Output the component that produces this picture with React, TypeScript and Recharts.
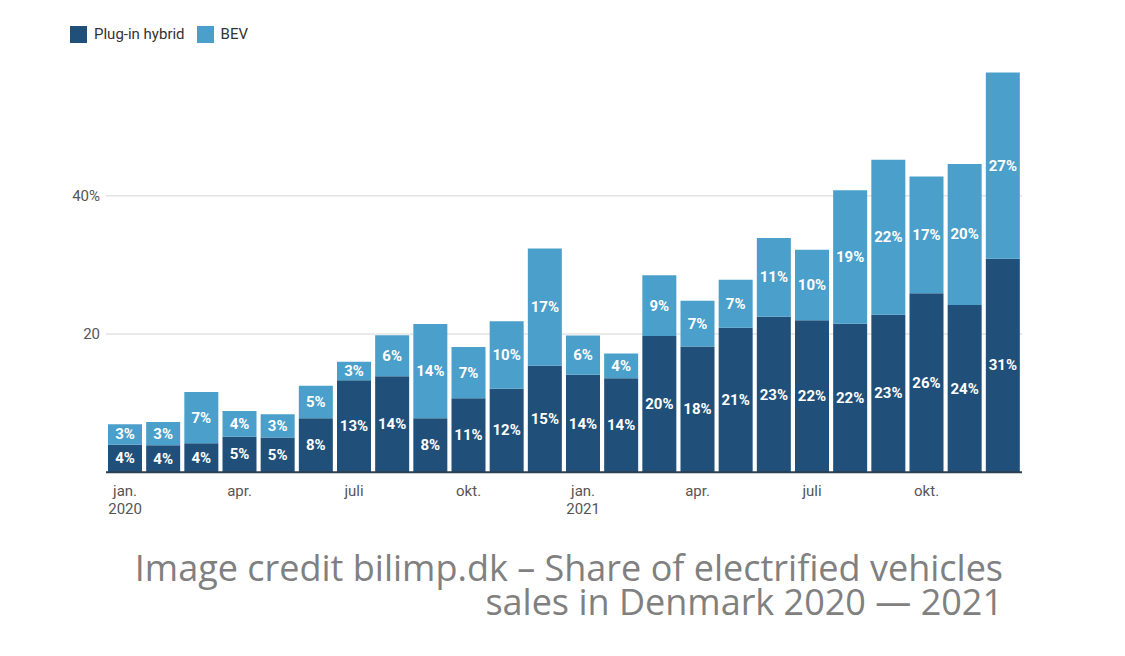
import React from "react";
import { BarChart, Bar, XAxis, YAxis, CartesianGrid, LabelList } from "recharts";

const months = [
  "2020-01", "2020-02", "2020-03", "2020-04", "2020-05", "2020-06",
  "2020-07", "2020-08", "2020-09", "2020-10", "2020-11", "2020-12",
  "2021-01", "2021-02", "2021-03", "2021-04", "2021-05", "2021-06",
  "2021-07", "2021-08", "2021-09", "2021-10", "2021-11", "2021-12",
];

const pluginHybrid = [
  4.0, 3.9, 4.2, 5.15, 5.05, 7.8, 13.3, 13.9, 7.8, 10.7, 12.1, 15.4,
  14.1, 13.6, 19.7, 18.2, 20.9, 22.5, 22.0, 21.5, 22.8, 25.9, 24.2, 30.9,
];

const bev = [
  2.95, 3.37, 7.42, 3.71, 3.33, 4.71, 2.7, 5.92, 13.64, 7.42, 9.75, 16.97,
  5.69, 3.57, 8.78, 6.6, 6.94, 11.38, 10.17, 19.28, 22.4, 16.86, 20.39, 26.9,
];

const xTickLines = [
  ["jan.", "2020"], [], [], ["apr."], [], [], ["juli"], [], [], ["okt."], [], [],
  ["jan.", "2021"], [], [], ["apr."], [], [], ["juli"], [], [], ["okt."], [], [],
];

const yDomain = [0, 60];
const yTicks = [20, 40];
const yTickLabels: Record<number, string> = { 20: "20", 40: "40%" };

const captionLines = [
  "Image credit bilimp.dk – Share of electrified vehicles",
  "sales in Denmark 2020 — 2021",
];

const seriesNames = { phev: "Plug-in hybrid", bev: "BEV" };
const DARK = "#20507a";
const LIGHT = "#4a9fcb";

const data = months.map((m, i) => ({ month: m, phev: pluginHybrid[i], bev: bev[i] }));

const XTick = (props: any) => {
  const { x, y, payload } = props;
  const lines = xTickLines[payload.index] || [];
  if (!lines.length) return null;
  return (
    <text x={x} y={y} textAnchor="middle" fill="#555" fontSize={15} fontFamily="Roboto">
      {lines.map((l: string, k: number) => (
        <tspan key={k} x={x} dy={k === 0 ? 16 : 18}>{l}</tspan>
      ))}
    </text>
  );
};

const BarLabel = (props: any) => {
  const { x, y, width, height, value } = props;
  if (value == null) return null;
  return (
    <text
      x={x + width / 2}
      y={y + height / 2}
      textAnchor="middle"
      dominantBaseline="central"
      fill="#fff"
      fontSize={15}
      fontWeight="bold"
      fontFamily="Roboto"
    >
      {Math.round(value)}%
    </text>
  );
};

const gridYs = (p: any) => {
  const off = p.offset || {};
  const top = off.top ?? 57.4;
  const h = off.height ?? 414.9;
  return yTicks.map((t) => top + h * (1 - (t - yDomain[0]) / (yDomain[1] - yDomain[0])));
};

export default function App() {
  return (
    <div style={{ position: "absolute", left: 0, top: 0, width: 1125, height: 656, background: "#fff", overflow: "hidden" }}>
      <div style={{ position: "absolute", left: 70, top: 25, display: "flex", alignItems: "center", fontFamily: "Roboto", fontSize: 15, color: "#333" }}>
        <span style={{ width: 17, height: 17, background: DARK, display: "inline-block", marginRight: 7 }} />
        <span style={{ marginRight: 12 }}>{seriesNames.phev}</span>
        <span style={{ width: 17, height: 17, background: LIGHT, display: "inline-block", marginRight: 7 }} />
        <span>{seriesNames.bev}</span>
      </div>
      <div style={{ position: "absolute", left: 0, top: 0 }}>
        <BarChart
          width={1125}
          height={540}
          data={data}
          margin={{ top: 57.4, right: 103, bottom: 7.7, left: 46 }}
          barCategoryGap={2}
        >
          <CartesianGrid
            vertical={false}
            stroke="#e3e3e3"
            strokeWidth={1.5}
            horizontalCoordinatesGenerator={gridYs}
          />
          <XAxis
            dataKey="month"
            interval={0}
            height={60}
            tickLine={false}
            axisLine={{ stroke: "#2c3e50", strokeWidth: 2 }}
            tick={<XTick />}
          />
          <YAxis
            width={60}
            domain={yDomain}
            ticks={yTicks}
            tickLine={false}
            axisLine={false}
            tickSize={0}
            tickMargin={6}
            tick={{ fill: "#555", fontSize: 15, fontFamily: "Roboto" }}
            tickFormatter={(v: number) => yTickLabels[v] ?? String(v)}
          />
          <Bar dataKey="phev" name={seriesNames.phev} stackId="a" fill={DARK} isAnimationActive={false}>
            <LabelList dataKey="phev" content={<BarLabel />} />
          </Bar>
          <Bar dataKey="bev" name={seriesNames.bev} stackId="a" fill={LIGHT} isAnimationActive={false}>
            <LabelList dataKey="bev" content={<BarLabel />} />
          </Bar>
        </BarChart>
      </div>
      <div
        style={{
          position: "absolute",
          right: 1125 - 1003,
          top: 551,
          textAlign: "right",
          fontFamily: "'Open Sans'",
          fontSize: 36,
          color: "#808080",
          whiteSpace: "nowrap",
        }}
      >
        {captionLines.map((l, i) => (
          <div key={i} style={{ height: 34, lineHeight: "34px" }}>{l}</div>
        ))}
      </div>
    </div>
  );
}
